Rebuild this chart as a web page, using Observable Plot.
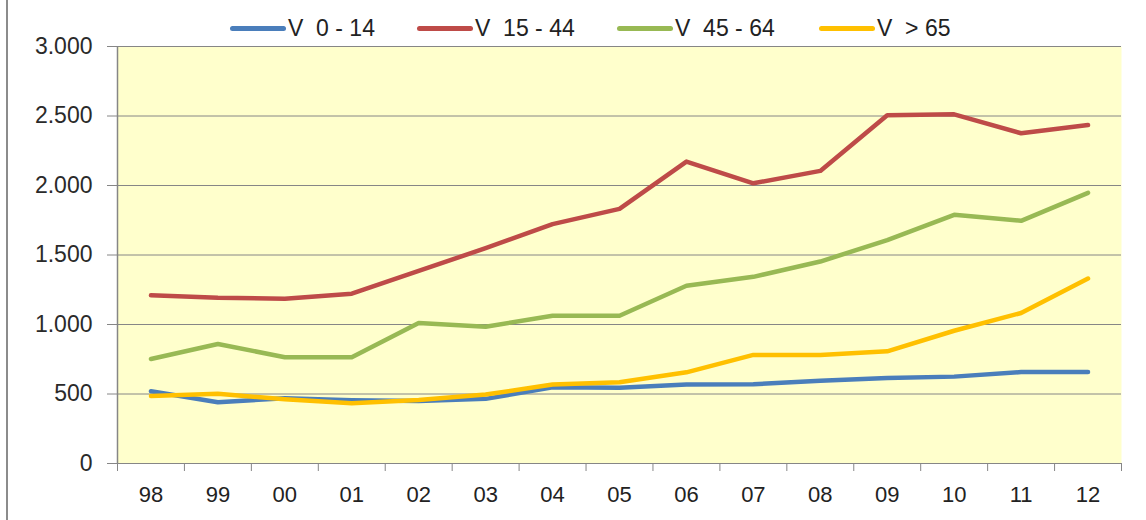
<!DOCTYPE html>
<html>
<head>
<meta charset="utf-8">
<script src="https://cdn.jsdelivr.net/npm/d3@7"></script>
<script src="https://cdn.jsdelivr.net/npm/@observablehq/plot@0.6"></script>
<style>
  body { margin: 0; background: #fff; }
  #wrap { position: relative; width: 1146px; height: 520px; overflow: hidden; }
  #border { position: absolute; left: 6px; top: 0; width: 2px; height: 520px; background: #8c8c8c; }
  #legend { position: absolute; top: 14px; left: 0; width: 1146px; height: 28px;
            font-family: "Liberation Sans", Arial, sans-serif; font-size: 23px; color: #222; }
  .sw { position: absolute; top: 12px; width: 56px; height: 5px; border-radius: 3px; }
  .txt { position: absolute; top: 0; white-space: pre; line-height: 28px; }
  #chart { position: absolute; top: 40px; left: 0; }
</style>
</head>
<body>
<div id="wrap">
  <div id="border"></div>
  <div id="legend"></div>
  <div id="chart"></div>
</div>
<script>
const years = ["98","99","00","01","02","03","04","05","06","07","08","09","10","11","12"];
const seriesNames = ["V  0 - 14", "V  15 - 44", "V  45 - 64", "V  > 65"];
const seriesColors = ["#4A7EBB", "#BE4B48", "#98B954", "#FFC000"];
const v0_14  = [520, 440, 470, 455, 450, 465, 548, 545, 568, 570, 596, 615, 625, 658, 658];
const v15_44 = [1210, 1192, 1185, 1222, 1386, 1549, 1722, 1832, 2172, 2016, 2105, 2505, 2512, 2376, 2435];
const v45_64 = [752, 860, 764, 764, 1011, 984, 1063, 1063, 1279, 1343, 1453, 1607, 1789, 1746, 1947];
const v65    = [486, 501, 462, 433, 457, 496, 568, 584, 656, 781, 781, 807, 955, 1083, 1331];
const yTicks = [0, 500, 1000, 1500, 2000, 2500, 3000];

const allSeries = [v0_14, v15_44, v45_64, v65];
const data = allSeries.flatMap((vals, s) => vals.map((v, i) => ({i, value: v, series: seriesNames[s]})));

// legend layout (pixel positions of each entry)
const legendX = [230, 417, 617, 819];
const legend = document.getElementById("legend");
seriesNames.forEach((n, k) => {
  const sw = document.createElement("div");
  sw.className = "sw";
  sw.style.left = legendX[k] + "px";
  sw.style.background = seriesColors[k];
  legend.appendChild(sw);
  const t = document.createElement("span");
  t.className = "txt";
  t.style.left = (legendX[k] + 58) + "px";
  t.textContent = n;
  legend.appendChild(t);
});

const loc = d3.formatLocale({decimal: ",", thousands: ".", grouping: [3], currency: ["", ""]});
const fmt = loc.format(",");

const gray = "#868686";
const chart = Plot.plot({
  width: 1146,
  height: 480,
  marginLeft: 117,
  marginRight: 25,
  marginTop: 6,
  marginBottom: 57,
  style: {background: "transparent", overflow: "visible"},
  x: {domain: [-0.5, years.length - 0.5], label: null},
  y: {domain: [0, 3000], label: null},
  color: {domain: seriesNames, range: seriesColors},
  marks: [
    Plot.frame({fill: "#FFFFCC", stroke: null}),
    Plot.gridY(yTicks.slice(1), {stroke: gray, strokeOpacity: 1, strokeWidth: 1}),
    Plot.ruleY([0], {stroke: gray, strokeWidth: 1}),
    Plot.ruleX([-0.5], {stroke: gray, strokeWidth: 1.5}),
    Plot.axisY({ticks: yTicks, tickSize: 10, tickPadding: 15, tickFormat: fmt, stroke: gray,
      fontFamily: "Liberation Sans", fontSize: 23, fill: "#2a2a2a", letterSpacing: 0.5}),
    Plot.axisX({ticks: d3.range(years.length + 1).map(i => i - 0.5), tickSize: 8, tickFormat: () => "", stroke: gray}),
    Plot.axisX({ticks: d3.range(years.length), tickSize: 0, tickPadding: 23, tickFormat: i => years[i],
      fontFamily: "Liberation Sans, sans-serif", fontSize: 22, fill: "#222"}),
    Plot.line(data, {x: "i", y: "value", z: "series", stroke: "series", strokeWidth: 4.5,
      strokeLinecap: "round", strokeLinejoin: "round"})
  ]
});
document.getElementById("chart").appendChild(chart);
</script>
</body>
</html>
